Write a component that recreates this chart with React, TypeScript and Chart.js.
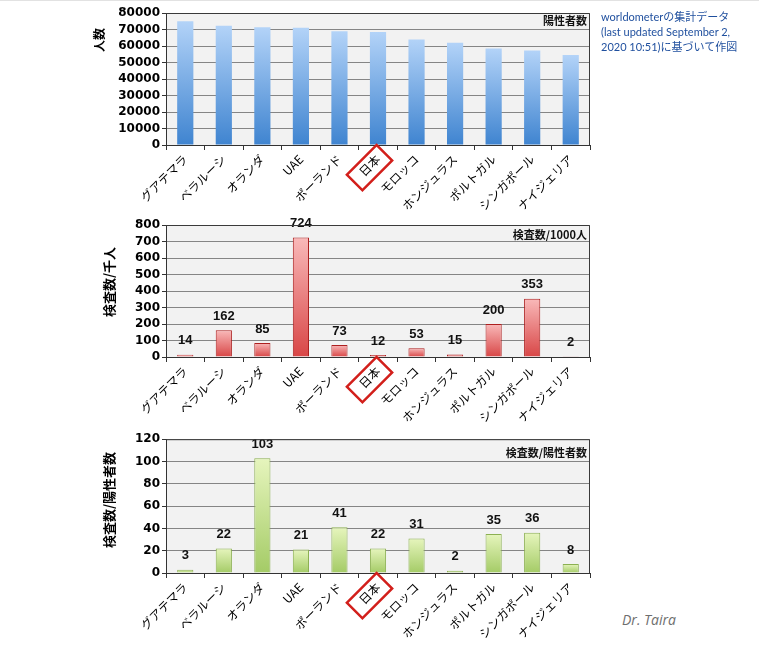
import React, { useEffect, useRef } from "react";
import { Chart, registerables } from "chart.js";

Chart.register(...registerables);

const countries = [
  "グアテマラ",
  "ベラルーシ",
  "オランダ",
  "UAE",
  "ポーランド",
  "日本",
  "モロッコ",
  "ホンジュラス",
  "ポルトガル",
  "シンガポール",
  "ナイジェリア",
];
const positives = [75000, 72200, 71300, 71100, 68900, 68500, 64000, 62000, 58500, 57200, 54500];
const testsPer1000 = [14, 162, 85, 724, 73, 12, 53, 15, 200, 353, 2];
const testsPerPositive = [3, 22, 103, 21, 41, 22, 31, 2, 35, 36, 8];

const JAPAN_INDEX = 5;
const CANVAS_LEFT = 90;
const CANVAS_W = 510;
const Y_AXIS_W = 76;

const gradientFill = (topColor: string, bottomColor: string) => (ctx: any) => {
  const chart = ctx.chart;
  const y = chart.scales && chart.scales.y;
  if (!y || ctx.type !== "data") return bottomColor;
  const v = ctx.raw;
  const yTop = y.getPixelForValue(v);
  const yBot = y.getPixelForValue(0);
  if (!isFinite(yTop) || !isFinite(yBot) || yBot - yTop < 1) return bottomColor;
  const g = chart.ctx.createLinearGradient(0, yTop, 0, yBot);
  g.addColorStop(0, topColor);
  g.addColorStop(1, bottomColor);
  return g;
};

const bgPlugin = {
  id: "plotBg",
  beforeDraw(chart: any) {
    const { ctx, chartArea } = chart;
    if (!chartArea) return;
    ctx.save();
    ctx.fillStyle = "#f2f2f2";
    ctx.fillRect(chartArea.left, chartArea.top, chartArea.right - chartArea.left, chartArea.bottom - chartArea.top);
    ctx.restore();
  },
  afterDraw(chart: any) {
    const { ctx, chartArea } = chart;
    ctx.save();
    ctx.strokeStyle = "#3a3a3a";
    ctx.lineWidth = 1;
    ctx.beginPath();
    ctx.moveTo(chartArea.left, chartArea.top + 0.5);
    ctx.lineTo(chartArea.right - 0.5, chartArea.top + 0.5);
    ctx.lineTo(chartArea.right - 0.5, chartArea.bottom);
    ctx.stroke();
    ctx.restore();
  },
};

const valuePlugin = {
  id: "valueLabels",
  afterDatasetsDraw(chart: any, _args: any, opts: any) {
    if (!opts || !opts.show) return;
    const { ctx } = chart;
    const meta = chart.getDatasetMeta(0);
    const data = chart.data.datasets[0].data;
    ctx.save();
    ctx.fillStyle = "#111";
    ctx.font = "bold 13px 'Liberation Sans', Arial, sans-serif";
    ctx.textAlign = "center";
    ctx.textBaseline = "middle";
    meta.data.forEach((bar: any, i: number) => {
      ctx.fillText(String(data[i]), bar.x, bar.y - 14);
    });
    ctx.restore();
  },
};

const boxPlugin = {
  id: "japanBox",
  afterDraw(chart: any) {
    const { ctx } = chart;
    const xs = chart.scales.x;
    const x0 = xs.getPixelForTick(JAPAN_INDEX);
    const y0 = xs.top + 7;
    ctx.save();
    ctx.translate(x0, y0);
    ctx.rotate(-Math.PI / 4);
    ctx.strokeStyle = "#d21f1b";
    ctx.lineWidth = 2.5;
    ctx.strokeRect(-38, -6, 42, 22);
    ctx.restore();
  },
};

type BarProps = {
  top: number;
  height: number;
  padTop: number;
  plotBottom: number;
  data: number[];
  max: number;
  step: number;
  topColor: string;
  bottomColor: string;
  borderColor: string;
  borderWidth: number;
  showValues: boolean;
};

function BarChart(p: BarProps) {
  const ref = useRef<HTMLCanvasElement>(null);
  useEffect(() => {
    const axisH = p.height - (p.plotBottom - p.top);
    const chart = new Chart(ref.current as HTMLCanvasElement, {
      type: "bar",
      data: {
        labels: countries,
        datasets: [
          {
            data: p.data,
            backgroundColor: gradientFill(p.topColor, p.bottomColor) as any,
            borderColor: p.borderColor,
            borderWidth: p.borderWidth,
            barPercentage: 0.42,
            categoryPercentage: 1,
          },
        ],
      },
      options: {
        responsive: false,
        animation: false,
        devicePixelRatio: 1,
        layout: { padding: { top: p.padTop, right: 10, left: 0, bottom: 0 } },
        plugins: {
          legend: { display: false },
          tooltip: { enabled: false },
          valueLabels: { show: p.showValues },
        } as any,
        scales: {
          x: {
            grid: { drawOnChartArea: false, drawTicks: true, tickLength: 5, color: "#333", offset: true },
            border: { color: "#333" },
            ticks: {
              minRotation: 45,
              maxRotation: 45,
              autoSkip: false,
              color: "#000",
              padding: 2,
              font: { family: "'Noto Sans CJK JP', sans-serif", size: 12 },
            },
            afterFit: (s: any) => {
              s.height = axisH;
            },
          },
          y: {
            min: 0,
            max: p.max,
            ticks: {
              stepSize: p.step,
              autoSkip: false,
              color: "#000",
              padding: 2,
              callback: (v: any) => String(v),
              font: { family: "'DejaVu Sans', sans-serif", size: 12, weight: "bold" },
            },
            grid: { color: "#858585", tickLength: 4, tickColor: "#333" },
            border: { color: "#333" },
            afterFit: (s: any) => {
              s.width = Y_AXIS_W;
            },
          },
        },
      } as any,
      plugins: [bgPlugin, valuePlugin, boxPlugin],
    });
    return () => chart.destroy();
  }, []);
  return (
    <canvas
      ref={ref}
      width={CANVAS_W}
      height={p.height}
      style={{ position: "absolute", left: CANVAS_LEFT, top: p.top, width: CANVAS_W, height: p.height }}
    />
  );
}

const jp = "'Noto Sans CJK JP', sans-serif";

function VText({ x, y, text, size }: { x: number; y: number; text: string; size: number }) {
  return (
    <div
      style={{
        position: "absolute",
        left: x,
        top: y,
        transform: "translate(-50%, -50%) rotate(-90deg)",
        whiteSpace: "nowrap",
        fontFamily: jp,
        fontWeight: "bold",
        fontSize: size,
        color: "#000",
        lineHeight: 1,
      }}
    >
      {text}
    </div>
  );
}

function CornerLabel({ right, y, text }: { right: number; y: number; text: string }) {
  return (
    <div
      style={{
        position: "absolute",
        right: 759 - right,
        top: y,
        transform: "translateY(-50%)",
        whiteSpace: "nowrap",
        fontFamily: jp,
        fontWeight: "bold",
        fontSize: 11,
        color: "#111",
        lineHeight: 1,
      }}
    >
      {text}
    </div>
  );
}

export default function App() {
  return (
    <div
      style={{
        position: "absolute",
        left: 0,
        top: 0,
        width: 759,
        height: 651,
        background: "#fff",
        overflow: "hidden",
      }}
    >
      <div style={{ position: "absolute", left: 0, top: 0, width: 759, height: 1, background: "#e2e2e2" }} />
      <BarChart
        top={0}
        height={215}
        padTop={13}
        plotBottom={145}
        data={positives}
        max={80000}
        step={10000}
        topColor="#b3d3f8"
        bottomColor="#3f84d0"
        borderColor="rgba(0,0,0,0)"
        borderWidth={0}
        showValues={false}
      />
      <BarChart
        top={200}
        height={235}
        padTop={25}
        plotBottom={357}
        data={testsPer1000}
        max={800}
        step={100}
        topColor="#f9b9b9"
        bottomColor="#d84646"
        borderColor="#ad1f1f"
        borderWidth={1}
        showValues={true}
      />
      <BarChart
        top={430}
        height={221}
        padTop={9}
        plotBottom={573}
        data={testsPerPositive}
        max={120}
        step={20}
        topColor="#e6f5bd"
        bottomColor="#a4cb66"
        borderColor="#8cb052"
        borderWidth={1}
        showValues={true}
      />
      <VText x={99} y={40} text="人数" size={12} />
      <VText x={108} y={282} text="検査数/千人" size={13} />
      <VText x={108} y={500} text="検査数/陽性者数" size={13} />
      <CornerLabel right={587} y={20} text="陽性者数" />
      <CornerLabel right={587} y={234} text="検査数/1000人" />
      <CornerLabel right={587} y={452} text="検査数/陽性者数" />
      <div
        style={{
          position: "absolute",
          left: 601,
          top: 9,
          width: 158,
          fontFamily: "Lato, " + jp,
          fontSize: 11,
          lineHeight: "15px",
          color: "#1f4f9e",
        }}
      >
        <div>worldometerの集計データ</div>
        <div>(last updated September 2,</div>
        <div>2020 10:51)に基づいて作図</div>
      </div>
      <div
        style={{
          position: "absolute",
          left: 622,
          top: 610,
          fontFamily: "'Open Sans', sans-serif",
          fontStyle: "italic",
          fontSize: 14,
          color: "#6e6e6e",
          lineHeight: "20px",
        }}
      >
        Dr. Taira
      </div>
    </div>
  );
}
